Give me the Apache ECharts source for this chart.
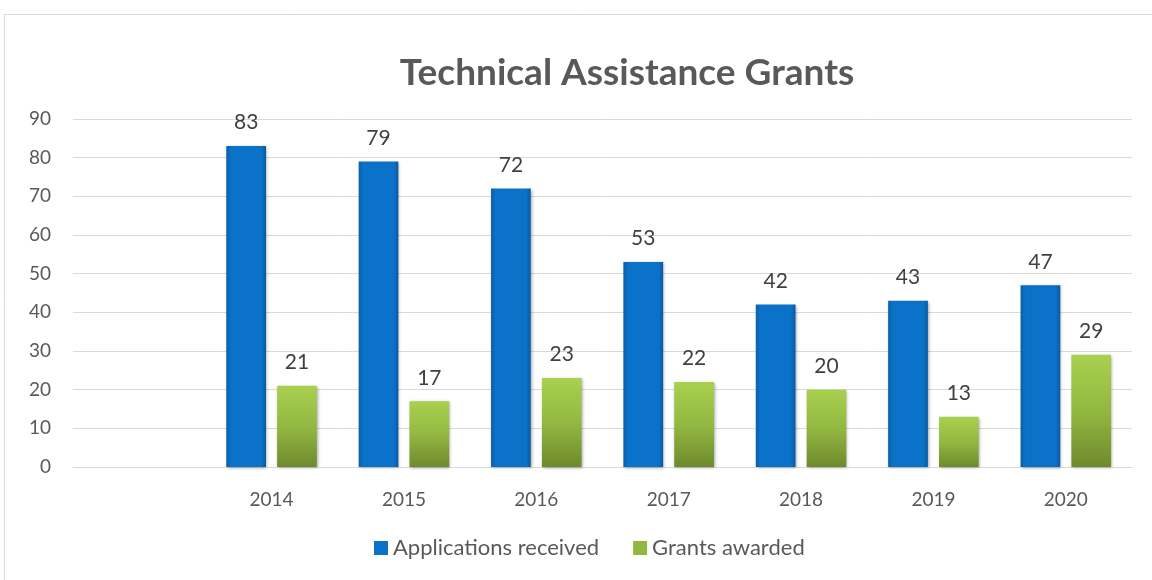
<!DOCTYPE html>
<html>
<head>
<meta charset="utf-8">
<script src="https://cdn.jsdelivr.net/npm/echarts@6/dist/echarts.min.js"></script>
<style>
  html, body { margin: 0; padding: 0; background: #fff; }
  #main { width: 1152px; height: 580px; }
</style>
</head>
<body>
<div id="main"></div>
<script>
var categories = ["", "2014", "2015", "2016", "2017", "2018", "2019", "2020"];
var applications = [null, 83, 79, 72, 53, 42, 43, 47];
var grants = [null, 21, 17, 23, 22, 20, 13, 29];
var yTicks = { min: 0, max: 90, interval: 10 };

var myChart = echarts.init(document.getElementById("main"));

var fontFamily = "Lato, 'Open Sans', sans-serif";

var blueFill = new echarts.graphic.LinearGradient(0, 0, 1, 0, [
  { offset: 0, color: "#0b5ea8" },
  { offset: 0.12, color: "#0a73c9" },
  { offset: 0.88, color: "#0a73c9" },
  { offset: 1, color: "#0a5aa0" }
]);
var greenFill = new echarts.graphic.LinearGradient(0, 0, 0, 1, [
  { offset: 0, color: "#a9d04e" },
  { offset: 0.5, color: "#93b842" },
  { offset: 1, color: "#6e8a2c" }
]);

var option = {
  backgroundColor: "#ffffff",
  graphic: [
    {
      type: "rect",
      shape: { x: 4.5, y: 14.5, width: 1160, height: 600 },
      style: { fill: "none", stroke: "#d9d9d9", lineWidth: 1 },
      silent: true
    }
  ],
  title: {
    text: "Technical Assistance Grants",
    left: 622,
    top: 50,
    textAlign: "center",
    textStyle: {
      fontFamily: fontFamily,
      fontSize: 37,
      fontWeight: "bold",
      color: "#595959"
    }
  },
  legend: {
    bottom: 16,
    left: 369,
    itemWidth: 14,
    itemHeight: 14,
    itemGap: 34,
    itemTextGap: 6,
    textStyle: { fontFamily: fontFamily, fontSize: 22, color: "#595959" },
    data: [
      { name: "Applications received", icon: "rect", itemStyle: { color: "#0a73c9" } },
      { name: "Grants awarded", icon: "rect", itemStyle: { color: "#93b842" } }
    ]
  },
  grid: { left: 73, right: 20, top: 119, bottom: 113, containLabel: false },
  xAxis: {
    type: "category",
    data: categories,
    axisLine: { show: true, lineStyle: { color: "#d9d9d9" } },
    axisTick: { show: false },
    axisLabel: { fontFamily: fontFamily, fontSize: 19, color: "#595959", margin: 23 }
  },
  yAxis: {
    type: "value",
    min: yTicks.min,
    max: yTicks.max,
    interval: yTicks.interval,
    axisLine: { show: false },
    axisTick: { show: false },
    splitLine: { lineStyle: { color: "#d9d9d9", width: 1 } },
    axisLabel: { fontFamily: fontFamily, fontSize: 19, color: "#595959", margin: 22 }
  },
  series: [
    {
      name: "Applications received",
      type: "bar",
      data: applications,
      barWidth: "30%",
      barGap: "28%",
      itemStyle: {
        color: blueFill,
        shadowColor: "rgba(0,0,0,0.35)",
        shadowBlur: 3,
        shadowOffsetX: 1,
        shadowOffsetY: 1
      },
      label: {
        show: true,
        position: "top",
        distance: 13,
        fontFamily: fontFamily,
        fontSize: 21,
        color: "#404040"
      }
    },
    {
      name: "Grants awarded",
      type: "bar",
      data: grants,
      barWidth: "30%",
      itemStyle: {
        color: greenFill,
        shadowColor: "rgba(0,0,0,0.35)",
        shadowBlur: 3,
        shadowOffsetX: 1,
        shadowOffsetY: 1
      },
      label: {
        show: true,
        position: "top",
        distance: 13,
        fontFamily: fontFamily,
        fontSize: 21,
        color: "#404040"
      }
    }
  ]
};

myChart.setOption(option);
</script>
</body>
</html>
